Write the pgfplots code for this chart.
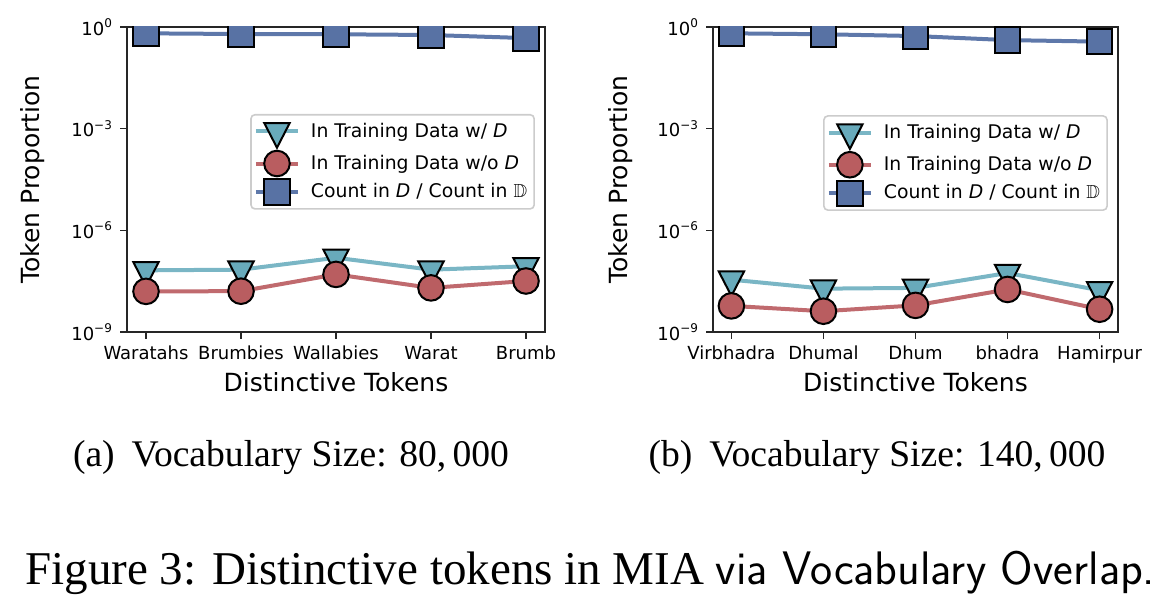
\documentclass[border=0pt]{standalone}
\usepackage{amssymb}
\usepackage{fontspec}
\usepackage{pgfplots}
\usepackage{pgfplotstable}
\pgfplotsset{compat=1.18}
\setmainfont{Liberation Serif}
\newfontfamily\dejavu{DejaVu Sans}

\definecolor{triF}{RGB}{104,170,187}
\definecolor{triL}{RGB}{122,182,197}
\definecolor{cirF}{RGB}{185,93,96}
\definecolor{cirL}{RGB}{192,106,110}
\definecolor{sqF}{RGB}{88,114,164}
\definecolor{sqL}{RGB}{94,120,170}

% vocabulary size 80,000
\pgfplotstableread{
x tri cir sq
0 6.6e-8 1.58e-8 0.65
1 6.9e-8 1.6e-8 0.62
2 1.55e-7 5.0e-8 0.61
3 6.9e-8 2.0e-8 0.58
4 8.7e-8 3.2e-8 0.47
}\smallvocab

% vocabulary size 140,000
\pgfplotstableread{
x tri cir sq
0 3.5e-8 5.9e-9 0.65
1 1.9e-8 4.1e-9 0.61
2 2.0e-8 6.1e-9 0.54
3 5.5e-8 1.8e-8 0.41
4 1.7e-8 4.7e-9 0.37
}\bigvocab

\tikzset{
  triser/.style={triL, line width=2pt, mark=triangle*, mark size=7.3pt,
    mark options={rotate=180, yscale=1.12, fill=triF, draw=black, line width=1pt}},
  cirser/.style={cirL, line width=2pt, mark=*, mark size=6.4pt,
    mark options={fill=cirF, draw=black, line width=1pt}},
  sqser/.style={sqL, line width=2pt, mark=square*, mark size=6.4pt,
    mark options={fill=sqF, draw=black, line width=1pt}},
}

\begin{document}
\begin{tikzpicture}
\path[use as bounding box] (0,0) rectangle (586.5pt,304pt);

\begin{axis}[
  at={(63.5pt,138pt)}, anchor=south west,
  scale only axis, width=209pt, height=152.5pt,
  ymode=log, ymin=1e-9, ymax=1,
  xmin=-0.2, xmax=4.2,
  xtick={0,1,2,3,4},
  xticklabels={Waratahs,Brumbies,Wallabies,Warat,Brumb},
  ytick={1e-9,1e-6,1e-3,1},
  yticklabels={10\textsuperscript{−9},10\textsuperscript{−6},10\textsuperscript{−3},10\textsuperscript{0}},
  minor tick length=0pt,
  tick align=outside, major tick length=3.5pt,
  tick style={black!85, line width=0.8pt},
  axis line style={black!85, line width=0.8pt},
  xtick pos=bottom, ytick pos=left,
  ticklabel style={font=\dejavu\fontsize{9}{10}\selectfont},
  ylabel={Token Proportion},
  xlabel={Distinctive Tokens},
  ylabel style={font=\dejavu\fontsize{12.5}{14}\selectfont, at={(axis description cs:-0.225,0.5)}, anchor=center},
  xlabel style={font=\dejavu\fontsize{12.5}{14}\selectfont, at={(axis description cs:0.5,-0.164)}, anchor=center},
  clip marker paths=true,
  legend cell align=left,
  legend style={at={(0.976,0.715)}, anchor=north east,
    draw=black!20, rounded corners=2pt, line width=0.8pt,
    font=\dejavu\fontsize{9.4}{11}\selectfont,
    inner xsep=1.5pt, inner ysep=2pt, row sep=1.5pt, column sep=3.5pt},
  legend image code/.code={
    \draw[mark repeat=2,mark phase=2] plot coordinates {(0pt,0pt)(10.5pt,0pt)(21pt,0pt)};
  },
]
\addplot[triser] table[x=x,y=tri] {\smallvocab};
\addlegendentry{In Training Data w/ {\itshape D}}
\addplot[cirser] table[x=x,y=cir] {\smallvocab};
\addlegendentry{In Training Data w/o {\itshape D}}
\addplot[sqser] table[x=x,y=sq] {\smallvocab};
\addlegendentry{Count in {\itshape D} / Count in $\mathbb{D}$}
\end{axis}

\begin{axis}[
  at={(356.5pt,138pt)}, anchor=south west,
  scale only axis, width=202.5pt, height=152.5pt,
  ymode=log, ymin=1e-9, ymax=1,
  xmin=-0.2, xmax=4.2,
  xtick={0,1,2,3,4},
  xticklabels={Virbhadra,Dhumal,Dhum,bhadra,Hamirpur},
  ytick={1e-9,1e-6,1e-3,1},
  yticklabels={10\textsuperscript{−9},10\textsuperscript{−6},10\textsuperscript{−3},10\textsuperscript{0}},
  minor tick length=0pt,
  tick align=outside, major tick length=3.5pt,
  tick style={black!85, line width=0.8pt},
  axis line style={black!85, line width=0.8pt},
  xtick pos=bottom, ytick pos=left,
  ticklabel style={font=\dejavu\fontsize{9}{10}\selectfont},
  ylabel={Token Proportion},
  xlabel={Distinctive Tokens},
  ylabel style={font=\dejavu\fontsize{12.5}{14}\selectfont, at={(axis description cs:-0.228,0.5)}, anchor=center},
  xlabel style={font=\dejavu\fontsize{12.5}{14}\selectfont, at={(axis description cs:0.5,-0.164)}, anchor=center},
  clip marker paths=true,
  legend cell align=left,
  legend style={at={(0.975,0.711)}, anchor=north east,
    draw=black!20, rounded corners=2pt, line width=0.8pt,
    font=\dejavu\fontsize{9.4}{11}\selectfont,
    inner xsep=1.5pt, inner ysep=2pt, row sep=1.5pt, column sep=3.5pt},
  legend image code/.code={
    \draw[mark repeat=2,mark phase=2] plot coordinates {(0pt,0pt)(10.5pt,0pt)(21pt,0pt)};
  },
]
\addplot[triser] table[x=x,y=tri] {\bigvocab};
\addlegendentry{In Training Data w/ {\itshape D}}
\addplot[cirser] table[x=x,y=cir] {\bigvocab};
\addlegendentry{In Training Data w/o {\itshape D}}
\addplot[sqser] table[x=x,y=sq] {\bigvocab};
\addlegendentry{Count in {\itshape D} / Count in $\mathbb{D}$}
\end{axis}

\node[anchor=base, font=\fontsize{18.8}{22}\selectfont] at (145.5pt,70.5pt)
  {(a)\hspace{0.45em}Vocabulary Size: 80,\,000};
\node[anchor=base, font=\fontsize{18.8}{22}\selectfont] at (438.5pt,70.5pt)
  {(b)\hspace{0.45em}Vocabulary Size: 140,\,000};
\node[anchor=base west, inner sep=0pt, font=\fontsize{23.5}{27}\selectfont] at (12.5pt,11.5pt)
  {Figure 3: Distinctive tokens in MIA {\sffamily via Vocabulary Overlap.}};
\end{tikzpicture}
\end{document}
